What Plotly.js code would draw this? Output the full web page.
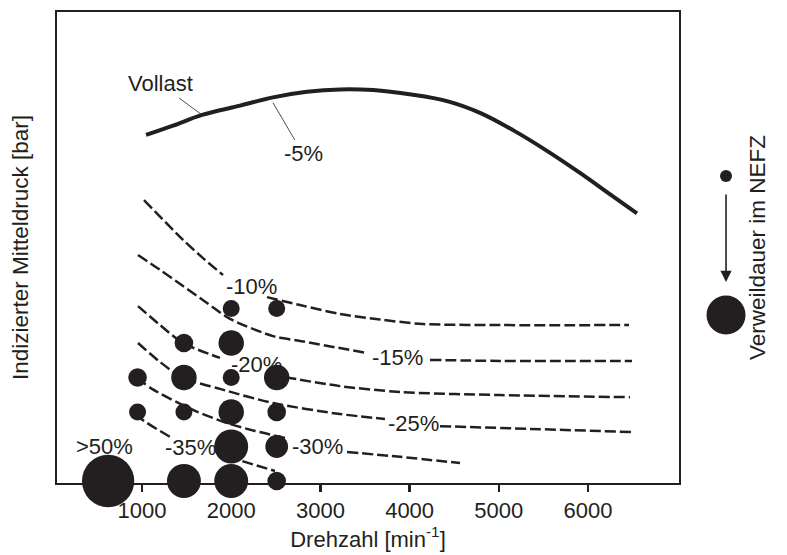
<!DOCTYPE html>
<html><head><meta charset="utf-8">
<script src="https://cdn.plot.ly/plotly-3.0.1.min.js"></script>
<style>html,body{margin:0;padding:0;background:#fff}</style>
</head><body>
<div id="chart" style="width:787px;height:555px"></div>
<script>
// Volllastlinie
const vollastDrehzahl = [1045, 1348, 1673, 2099, 2469, 2850, 3220, 3590, 4019, 4419, 4789, 5159, 5540, 5910, 6280, 6549];
const vollastDruck    = [10.03, 10.30, 10.61, 10.88, 11.12, 11.28, 11.35, 11.33, 11.20, 11.01, 10.67, 10.17, 9.57, 8.93, 8.25, 7.76];

// Linien gleicher Verbrauchsabweichung (null = Lücke für Beschriftung)
const kurve10X = [1022, 1460, 1684, 1908, null, 2401, 2771, 3220, 3668, 4150, 5013, 6460];
const kurve10Y = [8.14, 6.99, 6.46, 5.97, null, 5.33, 5.10, 4.84, 4.68, 4.55, 4.52, 4.52];
const kurve15X = [955, 1202, 1460, 1729, 1987, 2469, 2771, 3522, null, 4229, 5013, 6493];
const kurve15Y = [6.55, 6.12, 5.65, 5.16, 4.70, 4.20, 4.06, 3.71, null, 3.51, 3.48, 3.48];
const kurve20X = [955, 1202, 1460, 1874, null, 2603, 3220, 3892, 5013, 6471];
const kurve20Y = [5.07, 4.52, 4.00, 3.57, null, 3.01, 2.75, 2.58, 2.49, 2.43];
const kurve25X = [955, 1202, 1460, 1874, 2469, 3220, 3724, null, 4341, 5350, 6493];
const kurve25Y = [4.00, 3.45, 2.99, 2.67, 2.26, 1.94, 1.80, null, 1.59, 1.51, 1.42];
const kurve30X = [944, 1112, 1572, 1953, 2267, 2603, null, 3298, 3892, 4565];
const kurve30Y = [2.99, 2.67, 2.06, 1.68, 1.45, 1.25, null, 0.84, 0.70, 0.52];
const kurve35X = [944, 978, 1314, null, 1964, 2491];
const kurve35Y = [1.97, 1.83, 1.28, null, 0.70, 0.29];
const kurve50X = [760, 899];
const kurve50Y = [0.24, 0.00];

// Betriebspunkte im NEFZ und relative Verweildauer
const punktDrehzahl = [2000, 2510, 1470, 2000, 950, 1470, 2000, 2510, 950, 1470, 2000, 2510, 2000, 2510, 620, 1470, 2000, 2510];
const punktDruck    = [5, 5, 4, 4, 3, 3, 3, 3, 2, 2, 2, 2, 1, 1, 0, 0, 0, 0];
const verweildauer  = [1, 1, 1.2, 2.25, 1.2, 2.25, 1, 2.25, 1, 1, 2.25, 1.2, 4, 1.8, 9.5, 4, 4, 1.2];

// Beschriftungen
const labelText = ['-10%', '-15%', '-20%', '-25%', '-30%', '-35%', '>50%'];
const labelX    = [2230, 3860, 2286, 4038, 2962, 1538, 585];
const labelY    = [5.63, 3.59, 3.39, 1.68, 0.99, 0.96, 1.01];

const ink = '#231f20';
const fontFam = 'Arial, "Liberation Sans", sans-serif';

function dashed(x, y) {
  return {x: x, y: y, type: 'scatter', mode: 'lines', connectgaps: false,
    line: {color: ink, width: 2.5, dash: '11px,4px', shape: 'spline', smoothing: 0.8},
    hoverinfo: 'skip', showlegend: false};
}

const traces = [
  {x: vollastDrehzahl, y: vollastDruck, type: 'scatter', mode: 'lines',
   line: {color: ink, width: 4, shape: 'spline', smoothing: 1}, showlegend: false},
  dashed(kurve10X, kurve10Y), dashed(kurve15X, kurve15Y), dashed(kurve20X, kurve20Y),
  dashed(kurve25X, kurve25Y), dashed(kurve30X, kurve30Y), dashed(kurve35X, kurve35Y),
  {x: kurve50X, y: kurve50Y, type: 'scatter', mode: 'lines', line: {color: ink, width: 2.5}, showlegend: false},
  {x: punktDrehzahl, y: punktDruck, type: 'scatter', mode: 'markers', cliponaxis: false,
   marker: {size: verweildauer, sizemode: 'area', sizeref: 1/144, color: ink, opacity: 1, line: {width: 0}},
   showlegend: false}
];

const annotations = labelText.map((t, i) => ({
  x: labelX[i], y: labelY[i], xref: 'x', yref: 'y', text: t, showarrow: false,
  font: {size: 22, color: ink, family: fontFam}
}));
annotations.push({x: 1673, y: 10.61, xref: 'x', yref: 'y', ax: 1202, ay: 11.51, axref: 'x', ayref: 'y',
  text: 'Vollast', showarrow: true, arrowhead: 0, arrowwidth: 0.8, arrowcolor: ink,
  font: {size: 22, color: ink, family: fontFam}});
annotations.push({x: 2469, y: 10.96, xref: 'x', yref: 'y', ax: 2805, ay: 9.48, axref: 'x', ayref: 'y',
  text: '-5%', showarrow: true, arrowhead: 0, arrowwidth: 0.8, arrowcolor: ink,
  font: {size: 22, color: ink, family: fontFam}});
// Legende Verweildauer
annotations.push({x: 1.0756, y: 0.4268, xref: 'paper', yref: 'paper', ax: 0, ay: -89,
  text: '', showarrow: true, arrowhead: 2, arrowsize: 1.4, arrowwidth: 1.6, arrowcolor: ink});
annotations.push({x: 1.1495, y: 0.5, xref: 'paper', yref: 'paper', text: 'Verweildauer im NEFZ',
  textangle: -90, showarrow: false, font: {size: 22.5, color: ink, family: fontFam}});

const shapes = [
  {type: 'circle', xref: 'paper', yref: 'paper', xsizemode: 'pixel', ysizemode: 'pixel',
   xanchor: 1.0756, yanchor: 0.6518, x0: -6, x1: 6, y0: -6, y1: 6, fillcolor: ink, line: {width: 0}},
  {type: 'circle', xref: 'paper', yref: 'paper', xsizemode: 'pixel', ysizemode: 'pixel',
   xanchor: 1.0756, yanchor: 0.3567, x0: -19.5, x1: 19.5, y0: -19.5, y1: 19.5, fillcolor: ink, line: {width: 0}}
];

const layout = {
  width: 787, height: 555,
  margin: {l: 57, r: 108, t: 12, b: 72},
  paper_bgcolor: '#fff', plot_bgcolor: '#fff',
  font: {family: fontFam, color: ink, size: 22},
  showlegend: false,
  xaxis: {range: [47, 7020], tickvals: [1000, 2000, 3000, 4000, 5000, 6000],
    ticks: 'outside', ticklen: 7, tickwidth: 2.5, tickcolor: ink,
    showline: true, linewidth: 2, linecolor: ink, mirror: true,
    showgrid: false, zeroline: false, automargin: false,
    tickfont: {size: 22, color: ink, family: fontFam},
    title: {text: 'Drehzahl [min<sup>-1</sup>]', font: {size: 22, color: ink, family: fontFam}, standoff: 6}},
  yaxis: {range: [-0.058, 13.594], showticklabels: false, ticks: '',
    showline: true, linewidth: 2, linecolor: ink, mirror: true,
    showgrid: false, zeroline: false, automargin: false,
    title: {text: 'Indizierter Mitteldruck [bar]', font: {size: 22.5, color: ink, family: fontFam}, standoff: 20}},
  annotations: annotations,
  shapes: shapes
};

Plotly.newPlot('chart', traces, layout, {displayModeBar: false, staticPlot: true});
</script>
</body></html>
